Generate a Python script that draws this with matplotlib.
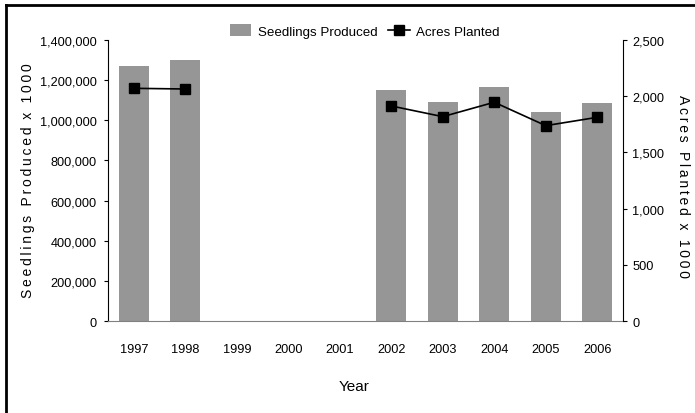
import matplotlib
matplotlib.use('Agg')
import matplotlib.pyplot as plt
from matplotlib.lines import Line2D
from matplotlib.ticker import FuncFormatter

years = ['1997', '1998', '1999', '2000', '2001', '2002', '2003', '2004', '2005', '2006']
seedlings = [1270000, 1300000, 0, 0, 0, 1151000, 1091000, 1166000, 1041000, 1086000]
acres = [2070, 2064, None, None, None, 1913, 1818, 1946, 1738, 1812]

plt.rcParams['font.family'] = ['Liberation Sans', 'DejaVu Sans']


def spaced(s):
    # letter spacing via thin spaces
    return '\u2009'.join(s)


fig = plt.figure(figsize=(6.95, 4.14), dpi=100)
ax = fig.add_axes([0.1554, 0.2222, 0.7410, 0.6788])
ax2 = ax.twinx()

x = list(range(len(years)))
bars = ax.bar(x, seedlings, width=0.58, color='#969696', label='Seedlings Produced')

ax_x = [i for i, v in enumerate(acres) if v is not None]
ax_y = [v for v in acres if v is not None]
ax2.plot(ax_x[:2], ax_y[:2], color='black', lw=1.2, marker='s', ms=6.5)
ln, = ax2.plot(ax_x[2:], ax_y[2:], color='black', lw=1.2, marker='s', ms=6.5, label='Acres Planted')

ax.set_xlim(-0.5, 9.5)
ax.set_ylim(0, 1400000)
ax2.set_ylim(0, 2500)
ax.set_yticks(range(0, 1400001, 200000))
ax2.set_yticks(range(0, 2501, 500))
ax.yaxis.set_major_formatter(FuncFormatter(lambda v, p: f'{int(v):,}'))
ax2.yaxis.set_major_formatter(FuncFormatter(lambda v, p: f'{int(v):,}'))
ax.set_xticks(x)
ax.set_xticklabels(years)

for a in (ax, ax2):
    a.spines['top'].set_visible(False)
ax.spines['right'].set_visible(False)
ax2.spines['left'].set_visible(False)
ax2.spines['bottom'].set_visible(False)
ax.spines['bottom'].set_color('#808080')
ax.spines['left'].set_color('black')
ax2.spines['right'].set_color('black')

ax.tick_params(axis='x', length=0, pad=16, labelsize=9.2)
ax.tick_params(axis='y', length=3, pad=5, labelsize=9.2)
ax2.tick_params(axis='y', length=3, pad=3.6, labelsize=9.2)

fig.text(28 / 695, 1 - 181 / 414, spaced('Seedlings Produced') + '  ' + spaced('x 1000'),
         rotation=90, ha='center', va='center', fontsize=10)
fig.text(683 / 695, 1 - 187 / 414, spaced('Acres Planted') + '  ' + spaced('x 1000'),
         rotation=270, ha='center', va='center', fontsize=10)
fig.text(354 / 695, 1 - 387 / 414, 'Year', ha='center', va='center', fontsize=11)

fig.legend([bars, ln], ['Seedlings Produced', 'Acres Planted'], loc='center',
           bbox_to_anchor=(365 / 695, 1 - 32 / 414), ncol=2, frameon=False, fontsize=9.6,
           handlelength=1.6, handleheight=0.9, columnspacing=0.8, handletextpad=0.5)

# border lines on top and left
fig.add_artist(Line2D([0.009, 0.009], [0, 0.986], color='black', lw=2, transform=fig.transFigure))
fig.add_artist(Line2D([0.009, 1], [0.986, 0.986], color='black', lw=2, transform=fig.transFigure))

fig.savefig('out.png', dpi=100)
